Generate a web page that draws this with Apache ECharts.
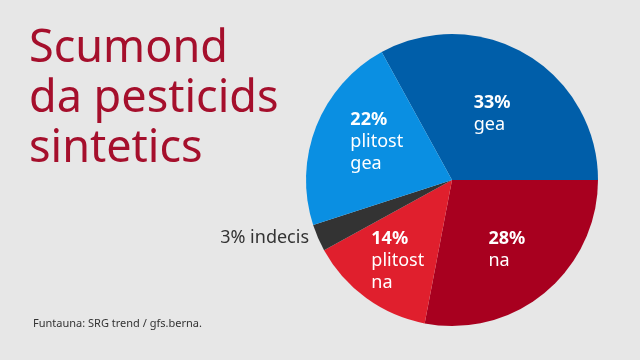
<!DOCTYPE html>
<html><head><meta charset="utf-8">
<script src="https://cdn.jsdelivr.net/npm/echarts@6/dist/echarts.min.js"></script>
<style>html,body{margin:0;padding:0;background:#e7e7e7}#c{width:640px;height:360px}</style>
</head><body><div id="c"></div>
<script>
const categories = ['gea', 'na', 'plitost na', 'indecis', 'plitost gea'];
const values = [33, 28, 14, 3, 22];
const colors = ['#005ea9', '#a8001f', '#e01f2d', '#333333', '#0a8fe2'];
const labelShift = [[-17, -1], [-12, 11], [-36, 19], null, [-31, -10]];

const data = categories.map((c, i) => {
  const item = { name: c, value: values[i], itemStyle: { color: colors[i] } };
  if (c === 'indecis') {
    item.label = {
      show: true, position: 'outside', color: '#333', fontSize: 18,
      fontFamily: 'Noto Sans', formatter: '{c}% {b}', distanceToLabelLine: 9
    };
    item.labelLine = { show: false, length: 0, length2: 0 };
  }
  return item;
});

const chart = echarts.init(document.getElementById('c'), null, { renderer: 'canvas' });
chart.setOption({
  backgroundColor: '#e7e7e7',
  animation: false,
  title: [{
    text: 'Scumond\nda pesticids\nsintetics',
    left: 24, top: 19,
    textStyle: { color: '#a50f2c', fontSize: 45, fontWeight: 'normal', fontFamily: 'Noto Sans', lineHeight: 50 }
  }, {
    text: 'Funtauna: SRG trend / gfs.berna.',
    left: 28, top: 313,
    textStyle: { color: '#333', fontSize: 11, fontWeight: 'normal', fontFamily: 'Noto Sans' }
  }],
  series: [{
    type: 'pie',
    center: [452, 180],
    radius: [0, 146],
    startAngle: 118.8,
    clockwise: true,
    avoidLabelOverlap: false,
    label: {
      show: true, position: 'inside', color: '#fff',
      fontFamily: 'Noto Sans', fontSize: 18, lineHeight: 22,
      formatter: p => '{b|' + p.value + '%}\n' + p.name.split(' ').join('\n'),
      rich: { b: { fontWeight: 'bold', fontSize: 18, lineHeight: 22, color: '#fff', fontFamily: 'Noto Sans' } }
    },
    labelLine: { show: false },
    labelLayout: function (p) {
      const s = labelShift[p.dataIndex];
      if (!s) return {};
      const r = p.labelRect;
      return { align: 'left', verticalAlign: 'middle', x: r.x + r.width / 2 + s[0], y: r.y + r.height / 2 + s[1] };
    },
    emphasis: { disabled: true },
    data: data
  }]
});
</script></body></html>
